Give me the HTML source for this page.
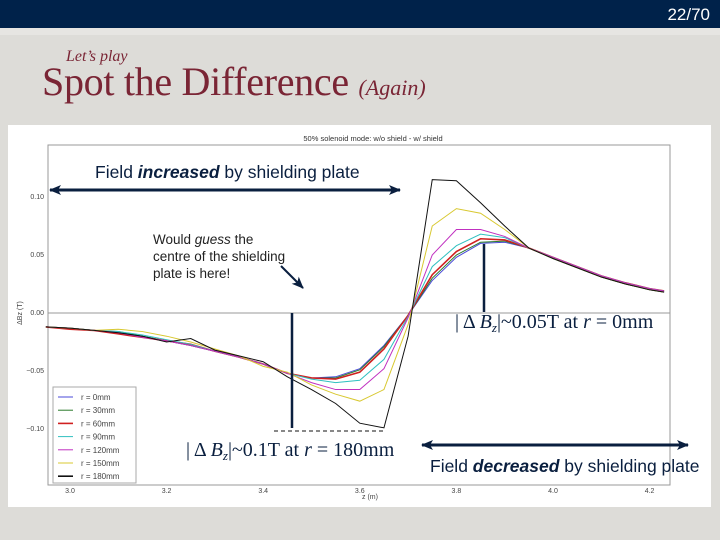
<!DOCTYPE html>
<html><head><meta charset="utf-8"><style>
body{margin:0;width:720px;height:540px;overflow:hidden;background:#dddcd8;font-family:"Liberation Sans",sans-serif;position:relative}
.abs{position:absolute}
</style></head><body>
<div class="abs" style="left:0;top:0;width:720px;height:28px;background:#00224a"></div>
<div class="abs" style="left:0;top:28px;width:720px;height:7px;background:#e6e5e2"></div>
<div class="abs" style="right:10px;top:5px;color:#fff;font-size:17px">22/70</div>
<div class="abs" style="left:66px;top:48px;color:#7a2535;font-family:'Liberation Serif',serif;font-style:italic;font-size:16px">Let’s play</div>
<div class="abs" style="left:42px;top:58px;color:#7a2535;font-family:'Liberation Serif',serif;font-size:40px;white-space:nowrap;letter-spacing:-0.3px">Spot the Difference <span style="font-style:italic;font-size:22px;letter-spacing:0">(Again)</span></div>
<div class="abs" style="left:8px;top:125px;width:703px;height:382px;background:#fff"></div>
<svg class="abs" style="left:0;top:0" width="720" height="540" font-family="Liberation Sans, sans-serif">
<g id="axes"></g><g id="series"></g><g id="annot"></g>
</svg>
<script>
const zs=[2.95,3.0,3.05,3.1,3.15,3.2,3.25,3.3,3.35,3.4,3.45,3.5,3.55,3.6,3.65,3.7,3.75,3.8,3.85,3.9,3.95,4.0,4.05,4.1,4.15,4.2,4.23];
const labels=["r = 0mm","r = 30mm","r = 60mm","r = 90mm","r = 120mm","r = 150mm","r = 180mm"];
const colors=["#4a4ad8","#2a7a2a","#d02020","#30c0c0","#c030c0","#d8c830","#111111"];
const r0  =[-0.012,-0.013,-0.015,-0.017,-0.020,-0.024,-0.028,-0.033,-0.038,-0.044,-0.052,-0.056,-0.055,-0.048,-0.028,-0.002,0.028,0.048,0.060,0.061,0.056,0.047,0.039,0.031,0.025,0.020,0.018];
const r30 =[-0.012,-0.013,-0.015,-0.016,-0.020,-0.024,-0.028,-0.033,-0.038,-0.044,-0.052,-0.056,-0.056,-0.049,-0.029,-0.002,0.030,0.050,0.061,0.062,0.056,0.047,0.039,0.031,0.025,0.020,0.018];
const r60 =[-0.012,-0.014,-0.015,-0.018,-0.021,-0.024,-0.027,-0.033,-0.038,-0.044,-0.052,-0.056,-0.057,-0.051,-0.031,-0.002,0.033,0.053,0.064,0.063,0.056,0.048,0.040,0.032,0.026,0.021,0.019];
const r90 =[-0.012,-0.013,-0.015,-0.016,-0.019,-0.023,-0.027,-0.033,-0.038,-0.044,-0.052,-0.057,-0.060,-0.058,-0.040,-0.003,0.040,0.058,0.068,0.065,0.056,0.048,0.040,0.032,0.026,0.021,0.019];
const r120=[-0.012,-0.013,-0.015,-0.017,-0.021,-0.024,-0.028,-0.033,-0.038,-0.044,-0.052,-0.060,-0.066,-0.066,-0.048,-0.004,0.050,0.072,0.072,0.066,0.056,0.048,0.040,0.032,0.026,0.021,0.019];
const r150=[-0.012,-0.013,-0.015,-0.014,-0.016,-0.020,-0.025,-0.031,-0.037,-0.046,-0.051,-0.062,-0.070,-0.076,-0.066,-0.010,0.075,0.090,0.086,0.072,0.056,0.047,0.039,0.031,0.025,0.020,0.018];
const r180=[-0.012,-0.013,-0.015,-0.017,-0.020,-0.025,-0.022,-0.032,-0.037,-0.042,-0.055,-0.066,-0.078,-0.095,-0.099,-0.020,0.115,0.114,0.095,0.075,0.056,0.047,0.039,0.031,0.025,0.020,0.018];
const series=[r0,r30,r60,r90,r120,r150,r180];
const xTicks=[3.0,3.2,3.4,3.6,3.8,4.0,4.2];
const yTicks=[0.10,0.05,0.00,-0.05,-0.10];
const NS="http://www.w3.org/2000/svg";
const X=z=>70+(z-3.0)*483, Y=v=>313-v*1160;
const L=48,R=670,T=145,B=485;
function mk(tag,attrs,parent,txt){const e=document.createElementNS(NS,tag);for(const k in attrs)e.setAttribute(k,attrs[k]);if(txt!==undefined)e.textContent=txt;parent.appendChild(e);return e;}
const ax=document.getElementById('axes'),sg=document.getElementById('series'),an=document.getElementById('annot');
const frame=mk('rect',{x:L,y:T,width:R-L,height:B-T,fill:'none',stroke:'#999','stroke-width':1},ax);


const zl=mk('line',{x1:L,x2:R,y1:Y(0),y2:Y(0),stroke:'#999','stroke-width':1},ax);


xTicks.forEach(t=>{const e=mk('text',{x:X(t),y:B+8,'font-size':7,fill:'#444','text-anchor':'middle'},ax,t.toFixed(1));

});
yTicks.forEach(t=>{const e=mk('text',{x:L-4,y:Y(t)+2,'font-size':7,fill:'#444','text-anchor':'end'},ax,t===0?'0.00':(t<0?'\u2212':'')+Math.abs(t).toFixed(2));

});
const xt=mk('text',{x:370,y:499,'font-size':7,fill:'#444','text-anchor':'middle'},ax,'z (m)');


const yt=mk('text',{x:22,y:313,'font-size':7,fill:'#444','text-anchor':'middle',transform:'rotate(-90 22 313)'},ax,'\u0394Bz (T)');


const ct=mk('text',{x:373,y:141,'font-size':7.5,fill:'#333','text-anchor':'middle'},ax,'50% solenoid mode: w/o shield - w/ shield');


series.forEach((s,i)=>{const p=mk('polyline',{points:s.map((v,j)=>X(zs[j])+','+Y(v)).join(' '),fill:'none',stroke:colors[i],'stroke-width':i===2?1.6:1},sg);

});
const lg=mk('g',{},ax);


mk('rect',{x:53,y:387,width:83,height:96,fill:'#fff',stroke:'#aaa'},lg);
labels.forEach((l,i)=>{const y=397+i*13.2;mk('line',{x1:58,x2:73,y1:y,y2:y,stroke:colors[i],'stroke-width':i===2||i===6?1.6:1},lg);
const t=mk('text',{x:81,y:y+3,'font-size':8,fill:'#444'},lg,l);

});
</script>
<svg class="abs" style="left:0;top:0" width="720" height="540" font-family="Liberation Sans, sans-serif">
<defs><marker id="ah" markerUnits="userSpaceOnUse" markerWidth="12" markerHeight="10" refX="11" refY="5" orient="auto-start-reverse"><path d="M0,0 L12,5 L0,10 L3,5 Z" fill="#0a1f3f"/></marker></defs>
<text x="95" y="178" font-size="17.5" fill="#0a1f3f">Field <tspan font-weight="bold" font-style="italic">increased</tspan> by shielding plate</text>
<line x1="50" y1="190" x2="400" y2="190" stroke="#0a1f3f" stroke-width="3" marker-start="url(#ah)" marker-end="url(#ah)"/>
<text font-size="13.5" fill="#222"><tspan x="153" y="244">Would <tspan font-style="italic">guess</tspan> the</tspan><tspan x="153" y="261">centre of the shielding</tspan><tspan x="153" y="278">plate is here!</tspan></text>
<line x1="281" y1="266" x2="303" y2="288" stroke="#0a1f3f" stroke-width="2" marker-end="url(#ah)"/>
<line x1="292" y1="313" x2="292" y2="428" stroke="#0a1f3f" stroke-width="2.5"/>
<line x1="274" y1="431" x2="384" y2="431" stroke="#111" stroke-width="1" stroke-dasharray="4,3"/>
<text x="186" y="456" font-size="20" fill="#0a1f3f" font-family="Liberation Serif, serif">| Δ <tspan font-style="italic">B</tspan><tspan font-size="13" font-style="italic" dy="4">z</tspan><tspan dy="-4">|~0.1T at </tspan><tspan font-style="italic">r</tspan> = 180mm</text>
<line x1="484" y1="244" x2="484" y2="312" stroke="#0a1f3f" stroke-width="2.5"/>
<text x="455" y="328" font-size="20" fill="#0a1f3f" font-family="Liberation Serif, serif">| Δ <tspan font-style="italic">B</tspan><tspan font-size="13" font-style="italic" dy="4">z</tspan><tspan dy="-4">|~0.05T at </tspan><tspan font-style="italic">r</tspan> = 0mm</text>
<line x1="422" y1="445" x2="688" y2="445" stroke="#0a1f3f" stroke-width="3" marker-start="url(#ah)" marker-end="url(#ah)"/>
<text x="430" y="472" font-size="17.5" fill="#0a1f3f">Field <tspan font-weight="bold" font-style="italic">decreased</tspan> by shielding plate</text>
</svg>
</body></html>
